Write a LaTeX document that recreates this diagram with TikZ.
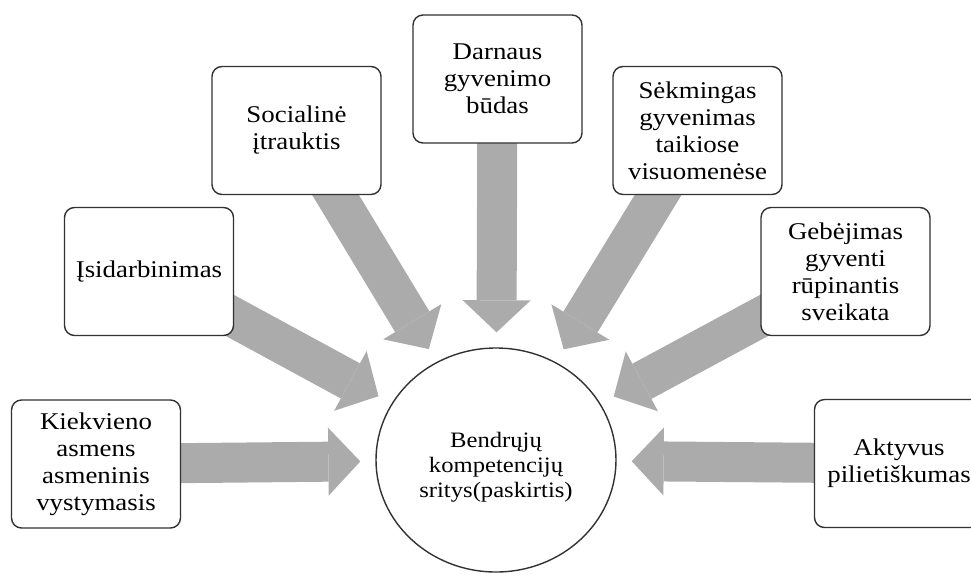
\documentclass[tikz,border=0pt]{standalone}
\usepackage{fontspec}
\setmainfont{Liberation Serif}[FakeStretch=1.12]
\usetikzlibrary{arrows.meta,backgrounds,shapes.geometric}

\definecolor{feedgray}{RGB}{171,171,171}
\definecolor{edgegray}{RGB}{50,50,50}

\begin{document}
\begin{tikzpicture}[x=1pt,y=-1pt,
    area/.style={draw=edgegray, line width=1.4pt, rounded corners=10pt, fill=white,
      minimum width=169pt, minimum height=128pt, inner sep=1pt, align=center,
      font=\fontsize{24}{27}\selectfont},
    hub/.style={draw=edgegray, line width=1.4pt, ellipse, fill=white,
      minimum width=240pt, minimum height=224pt, inner sep=0pt, align=center,
      font=\fontsize{22}{25}\selectfont},
    feed/.style={draw=feedgray, line width=40pt, shorten >=15pt,
      -{Triangle[width=68pt,length=32pt,line width=0pt]}}]
  \useasboundingbox (0,0) rectangle (971,574);

  \node[hub] (sritys) at (496,460) {\rule{0pt}{29pt}Bendrųjų\\kompetencijų\\sritys(paskirtis)};

  \node[area] (kiek) at (96,464) {Kiekvieno\\asmens\\asmeninis\\vystymasis};
  \node[area] (isid) at (149,271.5) {Įsidarbinimas};
  \node[area] (soc) at (296.5,130.5) {Socialinė\\įtrauktis};
  \node[area] (darn) at (497.5,79) {Darnaus\\gyvenimo\\būdas};
  \node[area] (sek) at (697.5,130.5) {Sėkmingas\\gyvenimas\\taikiose\\visuomenėse};
  \node[area] (geb) at (845.5,271.5) {Gebėjimas\\gyventi\\rūpinantis\\sveikata};
  \node[area] (akt) at (899,463.5) {Aktyvus\\pilietiškumas};

  \begin{scope}[on background layer]
    \foreach \src in {kiek,isid,soc,darn,sek,geb,akt}
      \draw[feed] (\src.center) -- (sritys);
  \end{scope}
\end{tikzpicture}
\end{document}
